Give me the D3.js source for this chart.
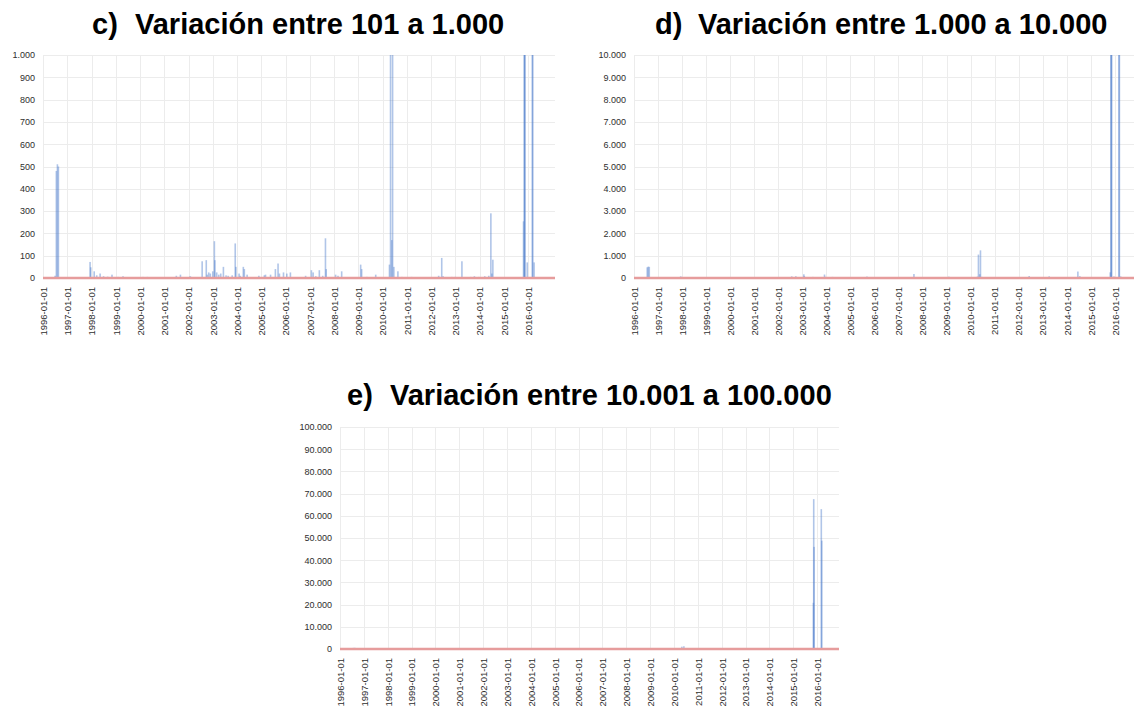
<!DOCTYPE html>
<html>
<head>
<meta charset="utf-8">
<script src="https://cdn.jsdelivr.net/npm/d3@7"></script>
<style>
  body { margin: 0; background: #fff; }
  text { font-family: "Liberation Sans", Arial, sans-serif; }
</style>
</head>
<body>
<script>
var w = 1134;
var h = 706;

// same series, shown with three different y ranges
var dates = [
  "1996-07-01", "1996-07-20", "1996-08-05", "1996-08-20",
  "1997-12-10", "1997-12-20", "1998-02-10", "1998-03-20", "1998-05-10", "1998-07-01",
  "1998-09-01", "1998-11-05", "1999-02-05", "1999-04-20", "2000-02-15", "2000-04-20",
  "2001-07-01", "2001-09-01", "2002-01-25", "2002-02-10", "2002-07-25", "2002-09-25",
  "2002-10-10", "2002-11-01", "2002-11-25", "2003-01-01", "2003-01-25", "2003-02-01",
  "2003-03-01", "2003-04-01", "2003-05-01", "2003-06-10", "2003-07-20", "2003-08-20",
  "2003-10-20", "2003-12-05", "2003-12-15", "2004-02-01", "2004-02-20", "2004-04-05",
  "2004-04-20", "2004-06-01", "2004-11-25", "2005-02-15", "2005-03-05", "2005-05-20",
  "2005-08-01", "2005-09-10", "2005-10-01", "2005-12-01", "2006-01-20", "2006-03-15",
  "2006-10-30", "2007-01-25", "2007-02-20", "2007-04-01", "2007-05-25", "2007-07-15",
  "2007-08-25", "2007-09-05", "2008-01-25", "2008-03-01", "2008-04-25", "2009-02-05",
  "2009-02-20", "2009-05-10", "2009-09-20", "2010-04-15", "2010-05-01", "2010-05-20",
  "2010-06-01", "2010-06-20", "2010-08-20", "2010-10-20", "2011-03-15", "2012-04-25",
  "2012-06-10", "2012-07-01", "2012-11-10", "2013-01-01", "2013-04-10", "2013-08-20",
  "2013-10-15", "2013-12-20", "2014-03-20", "2014-05-20", "2014-06-20", "2014-07-05",
  "2014-07-20", "2015-02-10", "2015-06-01", "2015-10-25", "2015-11-05", "2015-11-10",
  "2015-11-15", "2015-12-20", "2016-03-05", "2016-03-12", "2016-04-01"
];
var values = [
  10, 480, 510, 500,
  72, 48, 30, 12, 20, 8,
  6, 15, 5, 8, 5, 5,
  10, 15, 8, 5, 75, 80,
  15, 25, 20, 30, 165, 80,
  25, 15, 20, 50, 12, 10,
  12, 155, 50, 20, 10, 50,
  40, 15, 10, 12, 15, 15,
  40, 65, 20, 25, 20, 25,
  10, 35, 25, 8, 35, 10,
  178, 40, 15, 10, 30, 60,
  40, 5, 15, 60, 1050, 170,
  1240, 50, 30, 5, 5, 10,
  90, 8, 5, 5, 75, 5,
  8, 5, 8, 10, 290, 20,
  82, 3, 3, 254, 20800, 67500,
  46000, 70, 63000, 48800, 70
];

var letters = ["c)", "d)", "e)"];
var titles = ["Variación entre 101 a 1.000", "Variación entre 1.000 a 10.000", "Variación entre 10.001 a 100.000"];
var yMaxes = [1000, 10000, 100000];
var xTickLabels = [
  "1996-01-01", "1997-01-01", "1998-01-01", "1999-01-01", "2000-01-01", "2001-01-01",
  "2002-01-01", "2003-01-01", "2004-01-01", "2005-01-01", "2006-01-01", "2007-01-01",
  "2008-01-01", "2009-01-01", "2010-01-01", "2011-01-01", "2012-01-01", "2013-01-01",
  "2014-01-01", "2015-01-01", "2016-01-01"
];

// panel placement
var panels = [
  {left: 43, right: 555, top: 55, bottom: 278, end: "2017-02-10", titleX: 92, titleY: 34},
  {left: 634, right: 1134, top: 55, bottom: 278, end: "2016-10-20", titleX: 655, titleY: 34},
  {left: 340, right: 839, top: 427, bottom: 649, end: "2016-12-01", titleX: 347, titleY: 405}
];

var parse = d3.timeParse("%Y-%m-%d");
var points = dates.map(function(d, i) { return {date: parse(d), value: values[i]}; });
var fmt = d3.formatLocale({decimal: ",", thousands: ".", grouping: [3], currency: ["", ""]}).format(",d");

var svg = d3.select("body")
    .append("svg")
        .attr("width", w)
        .attr("height", h);

panels.forEach(function(p, k) {
    var x = d3.scaleTime()
        .domain([parse("1996-01-01"), parse(p.end)])
        .range([p.left, p.right]);
    var y = d3.scaleLinear()
        .domain([0, yMaxes[k]])
        .range([p.bottom, p.top])
        .clamp(true);

    var g = svg.append("g");

    // title
    g.append("text")
        .attr("x", p.titleX)
        .attr("y", p.titleY)
        .attr("font-size", 29)
        .attr("font-weight", "bold")
        .attr("fill", "#000")
        .text(letters[k]);
    g.append("text")
        .attr("x", p.titleX + 43)
        .attr("y", p.titleY)
        .attr("font-size", 29)
        .attr("font-weight", "bold")
        .attr("fill", "#000")
        .text(titles[k]);

    var yTicks = y.ticks(10);
    var tickDates = xTickLabels.map(parse);

    // grid
    g.selectAll(".hgrid")
        .data(yTicks)
        .enter()
        .append("line")
            .attr("x1", p.left)
            .attr("x2", p.right)
            .attr("y1", function(d) { return Math.round(y(d)) + 0.5; })
            .attr("y2", function(d) { return Math.round(y(d)) + 0.5; })
            .attr("stroke", "#ececec");
    g.selectAll(".vgrid")
        .data(tickDates)
        .enter()
        .append("line")
            .attr("x1", function(d) { return Math.round(x(d)) + 0.5; })
            .attr("x2", function(d) { return Math.round(x(d)) + 0.5; })
            .attr("y1", p.top)
            .attr("y2", p.bottom)
            .attr("stroke", "#ececec");

    // y labels
    var yAxis = d3.axisLeft(y)
        .tickValues(yTicks)
        .tickFormat(fmt)
        .tickSize(0)
        .tickPadding(0);
    var ya = g.append("g")
        .attr("transform", "translate(" + (p.left - 8) + ",0)")
        .call(yAxis);
    ya.select(".domain").remove();
    ya.selectAll("text")
        .attr("font-size", 9)
        .attr("font-family", "Liberation Sans, Arial, sans-serif")
        .attr("fill", "#2e2e2e");

    // x labels, rotated
    var xAxis = d3.axisBottom(x)
        .tickValues(tickDates)
        .tickFormat(function(d, i) { return xTickLabels[i]; })
        .tickSize(0);
    var xa = g.append("g")
        .attr("transform", "translate(0," + p.bottom + ")")
        .call(xAxis);
    xa.select(".domain").remove();
    xa.selectAll("text")
        .attr("font-size", 9.5)
        .attr("font-family", "Liberation Sans, Arial, sans-serif")
        .attr("fill", "#2e2e2e")
        .attr("text-anchor", "end")
        .attr("transform", "rotate(-90)")
        .attr("x", -9)
        .attr("y", 0)
        .attr("dy", "0.35em");

    // spikes
    g.selectAll(".bar")
        .data(points)
        .enter()
        .append("rect")
            .attr("x", function(d) { return x(d.date) - 0.8; })
            .attr("width", 1.6)
            .attr("y", function(d) { return y(d.value); })
            .attr("height", function(d) { return p.bottom - y(d.value); })
            .attr("fill", "#4f7fcc")
            .attr("fill-opacity", 0.45);

    // zero line
    g.append("line")
        .attr("x1", p.left)
        .attr("x2", p.right)
        .attr("y1", p.bottom)
        .attr("y2", p.bottom)
        .attr("stroke", "#e69c9c")
        .attr("stroke-width", 2.5);
});
</script>
</body>
</html>
